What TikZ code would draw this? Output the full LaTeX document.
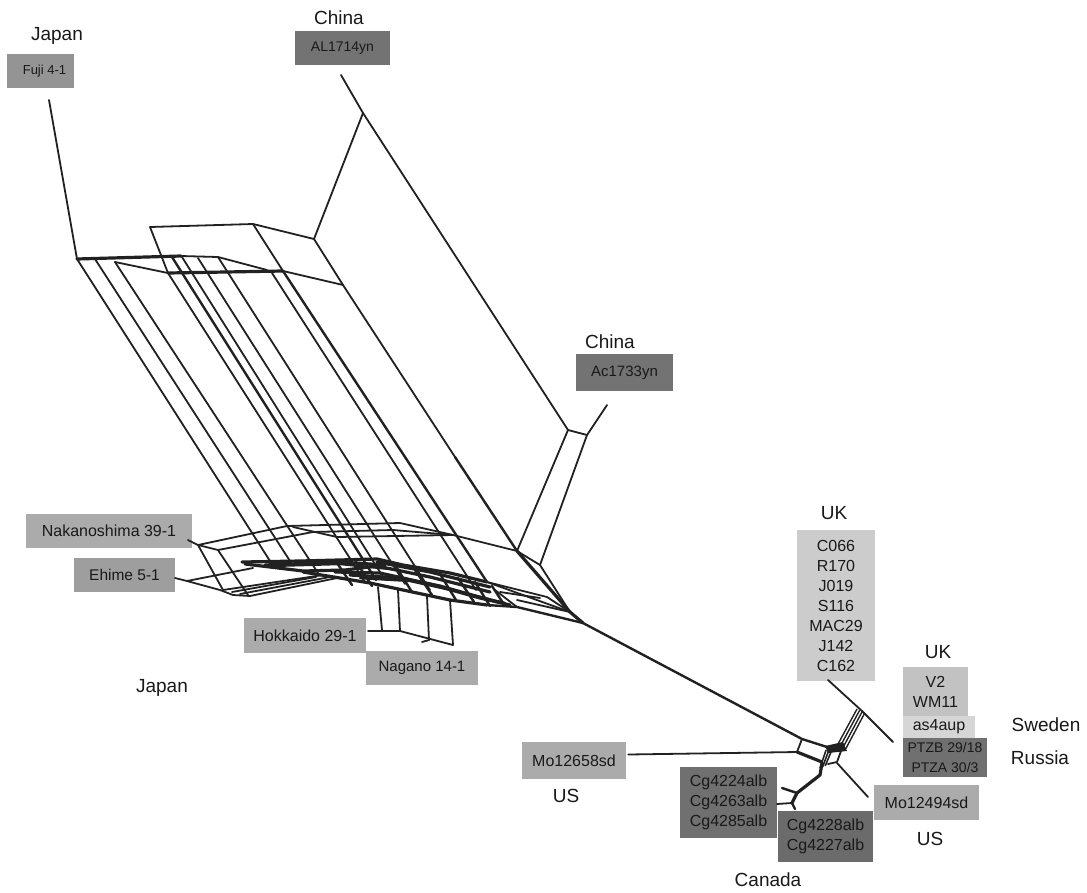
\documentclass[tikz,border=0pt]{standalone}
\usepackage{fontspec}
\setmainfont{Liberation Sans}
\definecolor{ink}{gray}{0.13}
\tikzset{
 net/.style={draw=ink,line width=1.8pt,line join=round,line cap=round},
 heavy/.style={net,line width=3.2pt},
 midl/.style={net,line width=2.4pt},
 tagbox/.style={anchor=center,inner sep=0pt,text=black!90,align=center},
 place/.style={font=\fontsize{19}{21}\selectfont,text=black!90},
}
\newcommand{\tagat}[8]{% name, x1,y1,x2,y2, gray, size, text
 \node[tagbox,fill=black!#6,minimum width={#4-#2},minimum height={#5-#3},font=\fontsize{#7}{20}\selectfont]
   (#1) at ({(#2+#4)/2},{(#3+#5)/2}) {#8};}
\begin{document}
\begin{tikzpicture}[x=1pt,y=-1pt]
\useasboundingbox (0,0) rectangle (1087,892);
\fill[white] (0,0) rectangle (1087,892);
% boxes
\tagat{fuji}{7}{54}{74}{88}{42}{13}{\hspace{8pt}Fuji 4-1}
\tagat{al}{295}{31}{390}{65}{55}{14}{AL1714yn}
\tagat{ac}{576}{354}{673}{391}{55}{15}{Ac1733yn}
\tagat{naka}{26}{514}{192}{548}{33}{16}{Nakanoshima 39-1}
\tagat{ehime}{74}{558}{175}{592}{38}{15.5}{Ehime 5-1}
\tagat{hok}{244}{618}{366}{653}{33}{16}{Hokkaido 29-1}
\tagat{nag}{366}{651}{478}{685}{33}{15}{Nagano 14-1}
\tagat{ukl}{797}{530}{875}{681}{20}{16}{C066\\R170\\J019\\S116\\MAC29\\J142\\C162}
\tagat{v2}{903}{667}{968}{716}{24}{16}{V2\\WM11}
\tagat{as}{903}{716}{975}{738}{16}{16}{as4aup}
\tagat{ptz}{903}{738}{987}{777}{56}{14}{PTZB 29/18\\PTZA 30/3}
\tagat{mo2}{874}{785}{979}{820}{33}{16}{Mo12494sd}
\tagat{mo1}{522}{742}{626}{779}{33}{16}{Mo12658sd}
\tagat{cg1}{680}{767}{777}{838}{56}{16}{Cg4224alb\\Cg4263alb\\Cg4285alb}
\tagat{cg2}{778}{811}{873}{862}{58}{16}{Cg4228alb\\Cg4227alb}
% place labels
\node[place] (p1) at (57,36) {Japan};
\node[place] (p2) at (339,18) {China};
\node[place] (p3) at (610,342) {China};
\node[place] (p4) at (162,688) {Japan};
\node[place] (p5) at (834,513) {UK};
\node[place] (p6) at (938,652) {UK};
\node[place] (p7) at (1046,725) {Sweden};
\node[place] (p8) at (1040,758) {Russia};
\node[place] (p9) at (566,796) {US};
\node[place] (p10) at (930,839) {US};
\node[place] (p11) at (768,880) {Canada};
% key points
\coordinate (fujiEnd) at (49,100);
\coordinate (A) at (77,259);
\coordinate (B) at (150,227);
\coordinate (C) at (253,224);
\coordinate (D) at (314,239);
\coordinate (E) at (363,113);
\coordinate (alEnd) at (341,75);
\coordinate (F) at (168,273);
\coordinate (G) at (283,271);
\coordinate (H) at (343,285);
\coordinate (I) at (218,257);
\coordinate (J) at (517,551);
\coordinate (K) at (540,565);
\coordinate (L) at (568,430);
\coordinate (M) at (587,435);
\coordinate (acEnd) at (607,405);
\coordinate (N) at (570,612);
\coordinate (N2) at (583,623);
\coordinate (O) at (802,739);
\coordinate (P) at (827,747);
\coordinate (Q) at (797,752);
\coordinate (R) at (822,762);
% upper network
\draw[net] (fujiEnd) -- (A);
\draw[net] (alEnd) -- (E) -- (L) -- (J);
\draw[net] (E) -- (D) -- (C) -- (B) -- (F);
\draw[net] (D) -- (H) -- (455,457);
\draw[midl] (455,457) -- (J);
\draw[net] (C) -- (G);
\draw[net] (acEnd) -- (M) -- (K);
\draw[net] (L) -- (M);
\draw[net] (G) -- (H);
\draw[heavy] (A) -- (181,256);
\draw[net] (181,256) -- (I) -- (267,270);
\draw[heavy] (F) -- (G);
\draw[net] (115,262) -- (F);
% long parallel lines, running on through the dense band
\foreach \xa/\ya/\xb/\yb in {
 77/259/270/561, 95/259/290/561, 115/262/318/573,
 168/273/365/582, 182/257/385/580, 198/258/405/584,
 218/257/430/590, 272/273/476/590}
 {\draw[net] (\xa,\ya) -- (\xb,\yb);}
\draw[midl] (172,257) -- (376,580);
\draw[midl] (G) -- (487,582);
\draw[heavy] (J) -- (N) -- (N2);
\draw[net] (J) -- (K) -- (N);
% lower network, upper band
\coordinate (n1) at (198,545);
\coordinate (n2) at (218,550);
\draw[net] (188,540) -- (n1) -- (287,526) -- (400,523) -- (453,535) -- (J);
\draw[net] (n1) -- (n2) -- (313,532) -- (393,530) -- (453,535);
\draw[net] (293,527) -- (337,537) -- (453,535);
\draw[net] (n1) -- (223,590);
\draw[net] (n2) -- (248,595);
% lower band, left side
\coordinate (e1) at (187,581);
\draw[net] (175,578) -- (e1) -- (220,590) -- (233,595) -- (250,596) -- (337,578);
\draw[net] (e1) -- (253,568);
\draw[net] (223,590) -- (323,575);
\draw[net] (232,592) -- (316,577);
\draw[net] (240,594) -- (330,577);
% dense band as heavy polylines
\draw[heavy] (242,562) -- (300,561) -- (377,559) -- (403,565) -- (450,573) -- (487,582);
\draw[heavy] (245,564) -- (303,571) -- (345,570) -- (377,566) -- (430,577) -- (490,592);
\draw[heavy] (303,572) -- (340,578) -- (370,583) -- (403,590) -- (450,600) -- (487,605);
\draw[heavy] (335,572) -- (380,573) -- (430,584) -- (480,598) -- (510,605);
\draw[heavy] (377,562) -- (430,572) -- (490,587);
\draw[heavy] (350,575) -- (400,578) -- (440,586) -- (490,600);
\draw[heavy] (265,565) -- (340,562) -- (385,565);
\draw[midl] (360,578) -- (410,581) -- (460,592) -- (505,603);
\draw[midl] (270,566) -- (340,564) -- (400,570);
\foreach \xa/\xb/\ya/\yb in {
 335/352/560/585, 355/372/560/586, 395/412/565/592, 415/432/570/595,
 440/456/574/600, 458/474/578/602, 475/490/582/606, 492/505/586/606}
 {\draw[midl] (\xa,\ya) -- (\xb,\yb);}
\draw[net] (487,582) -- (547,597) -- (N);
\draw[net] (487,582) -- (N);
\draw[net] (517,600) -- (N);
\draw[net] (495,590) -- (517,607);
\draw[midl] (487,605) -- (517,607) -- (N2);
\draw[net] (500,592) -- (540,598);
% vertical links
\coordinate (v1) at (382,630); \coordinate (v2) at (400,631);
\coordinate (v3) at (429,640); \coordinate (v4) at (453,645);
\coordinate (h0) at (368,631);
\draw[net] (378,587) -- (v1);
\draw[net] (398,590) -- (v2);
\draw[net] (427,596) -- (v3);
\draw[net] (450,600) -- (v4);
\draw[net] (h0) -- (v2) -- (v4);
\draw[net] (422,642) -- (v3);
% stem
\draw[midl] (N2) -- (O) -- (P);
% lower right network
\draw[net] (mo1.east) ++(2,-6) -- (Q);
\draw[net] (O) -- (Q);
\draw[heavy] (Q) -- (R);
\coordinate (t1) at (862,711);
\draw[net] (828,680) -- (t1) -- (893,742);
\foreach \d in {0,2.6,5.2,7.8}
 {\draw[line width=1.4pt,draw=ink] (838+\d,744+\d*.6) -- (857+\d,709+\d*.5);}
\fill[ink] (825,746) -- (843,742) -- (847,751) -- (828,753) -- cycle;
\foreach \d in {0,2.6,5.2}
 {\draw[line width=1.6pt,draw=ink] (826+\d,750+\d*.3) -- (820+\d,768-\d*.4);}
\draw[net] (828,764) -- (837,762) -- (841,751);
\draw[net] (837,763) -- (868,797);
\draw[heavy] (822,763) -- (820,775) -- (797,793) -- (792,803);
\draw[net] (792,803) -- (777,804);
\draw[midl] (782,788) -- (797,793);
\draw[midl] (792,803) -- (795,809);
\end{tikzpicture}
\end{document}
